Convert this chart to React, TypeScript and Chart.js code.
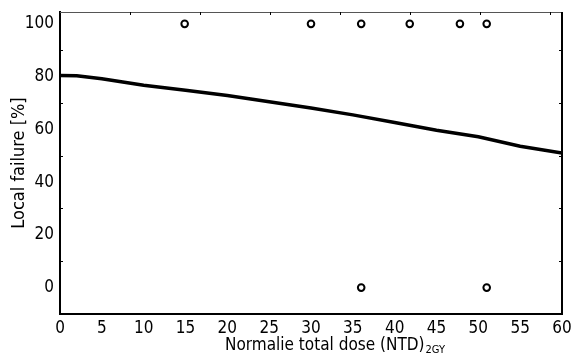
import React, { useEffect, useRef } from "react";
import { Chart, registerables } from "chart.js";

Chart.register(...registerables);

const curveDose = [0, 2, 5, 10, 15, 20, 25, 30, 35, 40, 45, 50, 55, 60];
const curveFailure = [80.4, 80.3, 79.2, 76.7, 74.8, 72.8, 70.5, 68.1, 65.5, 62.6, 59.7, 57.2, 53.6, 51.0];

const eventDose = [14.9, 30.0, 36.0, 41.8, 47.8, 51.0];
const eventFailure = [100, 100, 100, 100, 100, 100];
const censorDose = [36.0, 51.0];
const censorFailure = [0, 0];

const xTicks = [0, 5, 10, 15, 20, 25, 30, 35, 40, 45, 50, 55, 60];
const yTicks = [0, 20, 40, 60, 80, 100];
const yMinorTicks = [10, 30, 50, 70, 90];

const xTitleMain = "Normalie total dose (NTD)";
const xTitleSub = "2GY";
const yTitle = "Local failure [%]";

const FONT = "'Liberation Sans Narrow', 'DejaVu Sans Condensed', 'Roboto Condensed', 'Liberation Sans', sans-serif";

export default function App() {
  const ref = useRef<HTMLCanvasElement | null>(null);

  useEffect(() => {
    if (!ref.current) return;

    const framePlugin = {
      id: "frame",
      afterDraw(chart: any) {
        const { ctx, chartArea } = chart;
        const { left, right, top, bottom } = chartArea;
        ctx.save();
        ctx.strokeStyle = "#555";
        ctx.lineWidth = 1;
        ctx.beginPath();
        ctx.moveTo(left, top + 0.5);
        ctx.lineTo(right, top + 0.5);
        ctx.stroke();
        ctx.strokeStyle = "#000";
        ctx.lineWidth = 2;
        ctx.beginPath();
        ctx.moveTo(right, top);
        ctx.lineTo(right, bottom);
        ctx.stroke();
        const ys = chart.scales.y;
        ctx.lineWidth = 1;
        for (const v of yMinorTicks) {
          const py = Math.round(ys.getPixelForValue(v)) + 0.5;
          ctx.beginPath();
          ctx.moveTo(left, py);
          ctx.lineTo(left + 3, py);
          ctx.stroke();
          ctx.beginPath();
          ctx.moveTo(right - 3, py);
          ctx.lineTo(right, py);
          ctx.stroke();
        }
        const step = (right - left) / 7.17;
        for (let i = 1; i * step < right - left; i++) {
          const px = Math.round(left + i * step) + 0.5;
          ctx.beginPath();
          ctx.moveTo(px, top);
          ctx.lineTo(px, top + 3);
          ctx.stroke();
        }
        ctx.fillStyle = "#000";
        ctx.textBaseline = "alphabetic";
        ctx.textAlign = "left";
        ctx.font = `17px ${FONT}`;
        const mainW = ctx.measureText(xTitleMain).width;
        ctx.font = `11px ${FONT}`;
        const subW = ctx.measureText(xTitleSub).width;
        const totalW = mainW + subW + 1;
        const cx = 335;
        const startX = cx - totalW / 2;
        const baseY = 350;
        ctx.font = `17px ${FONT}`;
        ctx.fillText(xTitleMain, startX, baseY);
        ctx.font = `11px ${FONT}`;
        ctx.fillText(xTitleSub, startX + mainW + 1, baseY + 3);
        ctx.restore();
      },
    };

    const chart = new Chart(ref.current, {
      type: "scatter",
      data: {
        datasets: [
          {
            type: "line",
            data: curveDose.map((x, i) => ({ x, y: curveFailure[i] })),
            borderColor: "#000",
            borderWidth: 3.5,
            pointRadius: 0,
            tension: 0,
            fill: false,
          },
          {
            data: eventDose.map((x, i) => ({ x, y: eventFailure[i] })),
            pointRadius: 3.3,
            pointBorderWidth: 2,
            pointBorderColor: "#000",
            pointBackgroundColor: "#fff",
          },
          {
            data: censorDose.map((x, i) => ({ x, y: censorFailure[i] })),
            pointRadius: 3.3,
            pointBorderWidth: 2,
            pointBorderColor: "#000",
            pointBackgroundColor: "#fff",
          },
        ],
      } as any,
      options: {
        animation: false,
        responsive: true,
        maintainAspectRatio: false,
        layout: { padding: { left: 0, top: 12, right: 11, bottom: 0 } },
        plugins: {
          legend: { display: false },
          tooltip: { enabled: false },
        },
        scales: {
          x: {
            type: "linear",
            min: 0,
            max: 60,
            afterBuildTicks: (s: any) => {
              s.ticks = xTicks.map((v) => ({ value: v }));
            },
            afterFit: (s: any) => {
              s.height = 40;
              s.paddingLeft = 0;
              s.paddingRight = 0;
            },
            grid: { display: false, drawTicks: false },
            border: { color: "#000", width: 2 },
            ticks: {
              color: "#000",
              padding: 4,
              font: { family: FONT, size: 17 },
              maxRotation: 0,
            },
          },
          y: {
            type: "linear",
            min: -10,
            max: 104.5,
            afterBuildTicks: (s: any) => {
              s.ticks = yTicks.map((v) => ({ value: v }));
            },
            afterFit: (s: any) => {
              s.width = 60;
              s.paddingTop = 0;
              s.paddingBottom = 0;
            },
            grid: { display: false, drawTicks: false },
            border: { color: "#000", width: 2 },
            title: {
              display: true,
              text: yTitle,
              color: "#000",
              font: { family: FONT, size: 18 },
              padding: { top: 9, bottom: 0 },
            },
            ticks: {
              color: "#000",
              padding: 6,
              font: { family: FONT, size: 17 },
            },
          },
        },
      },
      plugins: [framePlugin],
    });

    return () => chart.destroy();
  }, []);

  return (
    <div style={{ position: "fixed", left: 0, top: 0, width: 573, height: 354, background: "#fff" }}>
      <canvas ref={ref} />
    </div>
  );
}
